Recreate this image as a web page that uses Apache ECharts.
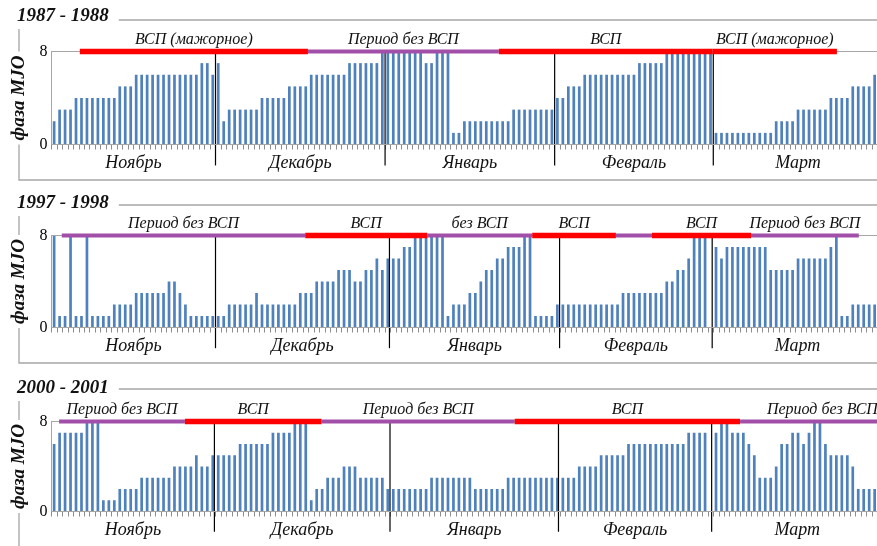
<!DOCTYPE html>
<html>
<head>
<meta charset="utf-8">
<script src="https://cdn.jsdelivr.net/npm/echarts@6/dist/echarts.min.js"></script>
<style>
  html, body { margin: 0; padding: 0; background: #fff; }
  #chart { width: 877px; height: 546px; }
</style>
</head>
<body>
<div id="chart"></div>
<script>
// Daily MJO phase, Nov 1 – Mar 31, one array per month.
const monthNames = ['Ноябрь', 'Декабрь', 'Январь', 'Февраль', 'Март'];
// Day slots per month on the shared axis (February keeps a slot for the 29th).
const slotTemplate = [30, 31, 31, 29, 31];

// 1987 - 1988
const nov87 = [2,3,3,3,4,4,4,4,4,4,4,4,5,5,5,6,6,6,6,6,6,6,6,6,6,6,6,7,7,6];
const dec87 = [7,2,3,3,3,3,3,3,4,4,4,4,4,5,5,5,5,6,6,6,6,6,6,6,7,7,7,7,7,7,8];
const jan88 = [8,8,8,8,8,8,8,7,7,8,8,8,1,1,2,2,2,2,2,2,2,2,2,3,3,3,3,3,3,3,3];
const feb88 = [4,4,5,5,5,6,6,6,6,6,6,6,6,6,6,7,7,7,7,7,8,8,8,8,8,8,8,8,8];
const mar88 = [1,1,1,1,1,1,1,1,1,1,1,2,2,2,2,3,3,3,3,3,3,4,4,4,4,5,5,5,5,6,6];

// 1997 - 1998
const nov97 = [8,1,1,8,1,1,8,1,1,1,1,2,2,2,2,3,3,3,3,3,3,4,4,3,2,1,1,1,1,1];
const dec97 = [1,1,2,2,2,2,2,3,2,2,2,2,2,2,2,3,3,3,4,4,4,4,5,5,5,4,4,5,5,6,5];
const jan98 = [6,6,6,7,7,8,8,8,8,8,8,1,2,2,2,3,3,4,5,5,6,6,7,7,7,8,8,1,1,1,1];
const feb98 = [2,2,2,2,2,2,2,2,2,2,2,2,3,3,3,3,3,3,3,3,4,4,5,5,6,8,8,8];
const mar98 = [7,6,7,7,7,7,7,7,7,7,5,5,5,5,5,6,6,6,6,6,6,7,8,1,1,2,2,2,2,2,2];

// 2000 - 2001
const nov00 = [6,7,7,7,7,7,8,8,8,1,1,1,2,2,2,2,3,3,3,3,3,3,4,4,4,4,5,4,4,5];
const dec00 = [5,5,5,5,6,6,6,6,6,6,7,7,7,7,8,8,8,1,2,2,3,3,3,4,4,4,3,3,3,3,3];
const jan01 = [2,2,2,2,2,2,2,2,3,3,3,3,3,3,3,3,2,2,2,2,2,2,3,3,3,3,3,3,3,3,3];
const feb01 = [3,3,3,3,4,4,4,4,5,5,5,5,5,6,6,6,6,6,6,6,6,6,6,6,7,7,7,7];
const mar01 = [7,8,8,7,7,7,6,5,3,3,3,4,6,6,7,7,6,7,8,8,6,5,5,5,5,4,2,2,2,2,2];

// Month dividers, in day slots from Nov 1
const edges87 = [30, 61, 92, 121];
const edges97 = [30, 61.8, 92.9, 120.8];
const edges00 = [29.8, 61.9, 92.7, 120.7];

// Periods drawn along phase 8: [from day, to day, label, kind]
const periods87 = [
  [5.2, 46.9, 'ВСП (мажорное)', 'vsp'],
  [46.9, 81.8, 'Период без ВСП', 'none'],
  [81.8, 120.9, 'ВСП', 'vsp'],
  [120.9, 143.6, 'ВСП (мажорное)', 'vsp']
];
const periods97 = [
  [1.9, 46.4, 'Период без ВСП', 'none'],
  [46.4, 68.7, 'ВСП', 'vsp'],
  [68.7, 87.9, 'без ВСП', 'none'],
  [87.9, 103.2, 'ВСП', 'vsp'],
  [103.2, 109.8, '', 'none'],
  [109.8, 127.9, 'ВСП', 'vsp'],
  [127.9, 147.6, 'Период без ВСП', 'none']
];
const periods00 = [
  [1.4, 24.4, 'Период без ВСП', 'none'],
  [24.4, 49.4, 'ВСП', 'vsp'],
  [49.4, 84.7, 'Период без ВСП', 'none'],
  [84.7, 125.9, 'ВСП', 'vsp'],
  [125.9, 156, 'Период без ВСП', 'none']
];

const seasons = [
  { title: '1987 - 1988', months: [nov87, dec87, jan88, feb88, mar88], edges: edges87, periods: periods87 },
  { title: '1997 - 1998', months: [nov97, dec97, jan98, feb98, mar98], edges: edges97, periods: periods97 },
  { title: '2000 - 2001', months: [nov00, dec00, jan01, feb01, mar01], edges: edges00, periods: periods00 }
];

// ---- layout ----
const GRID_LEFT = 51.4;
const X_MAX = 150.93;
const panelBoxes = [
  { top: 51.5, height: 93, frameY: 20, frameH: 160, titleTop: 4 },
  { top: 235.5, height: 92, frameY: 205, frameH: 158, titleTop: 191 },
  { top: 421.5, height: 90, frameY: 389, frameH: 175, titleTop: 376 }
];
const serif = '"Liberation Serif", "Times New Roman", serif';
const BAR_BLUE = '#4F81BD';
const LINE_COLORS = { vsp: '#FF0000', none: '#A14FA8' };

function toSlots(months) {
  const out = [];
  let start = 0;
  months.forEach((vals, k) => {
    vals.forEach((v, d) => { if (v != null) out.push([start + d + 0.5, v]); });
    start += slotTemplate[k];
  });
  return out;
}
const totalSlots = slotTemplate.reduce((a, b) => a + b, 0);

const option = {
  animation: false,
  textStyle: { fontFamily: serif },
  title: [],
  graphic: { elements: [] },
  grid: [],
  xAxis: [],
  yAxis: [],
  series: []
};

seasons.forEach((s, k) => {
  const box = panelBoxes[k];

  option.graphic.elements.push({
    type: 'rect', z: -5, silent: true,
    shape: { x: 19, y: box.frameY, width: 900, height: box.frameH },
    style: { fill: null, stroke: '#a6a6a6', lineWidth: 1.3 }
  });

  option.title.push({
    text: s.title, left: 14, top: box.titleTop,
    padding: [3, 10, 3, 3], backgroundColor: '#fff', z: 8,
    textStyle: { fontFamily: serif, fontStyle: 'italic', fontWeight: 'bold', fontSize: 19, color: '#111' }
  });

  option.grid.push({ left: GRID_LEFT, right: 0, top: box.top, height: box.height });

  option.xAxis.push({
    type: 'value', gridIndex: k, min: 0, max: X_MAX, interval: 1,
    axisLine: { show: true, lineStyle: { color: '#a6a6a6', width: 1 } },
    axisTick: { show: true, length: 5, lineStyle: { color: '#8c8c8c', width: 1 } },
    axisLabel: { show: false },
    splitLine: { show: false }
  });

  option.yAxis.push({
    type: 'value', gridIndex: k, min: 0, max: 8, interval: 8, z: 5,
    name: 'фаза MJO', nameLocation: 'middle', nameRotate: 90, nameGap: 20,
    nameTextStyle: {
      fontFamily: serif, fontStyle: 'italic', fontWeight: 'bold', fontSize: 19,
      color: '#111', backgroundColor: '#fff', padding: [0, 4]
    },
    axisLine: { show: true, lineStyle: { color: '#a6a6a6', width: 1 } },
    axisTick: { show: false },
    axisLabel: { fontFamily: serif, fontSize: 16, color: '#000', margin: 4 },
    splitLine: { show: true, lineStyle: { color: '#a6a6a6', width: 1 } }
  });

  // daily phase bars
  option.series.push({
    type: 'bar', xAxisIndex: k, yAxisIndex: k, silent: true,
    data: toSlots(s.months), barWidth: 2.7,
    itemStyle: { color: BAR_BLUE }, z: 2
  });

  // month dividers
  option.series.push({
    type: 'custom', xAxisIndex: k, yAxisIndex: k, silent: true, z: 4,
    data: s.edges.map(e => [e, 8]),
    renderItem: (params, api) => {
      const a = api.coord([api.value(0), 8]);
      const b = api.coord([api.value(0), -1.8]);
      return { type: 'line', shape: { x1: a[0], y1: a[1], x2: b[0], y2: b[1] },
               style: { stroke: '#000', lineWidth: 1.2 } };
    }
  });

  // month names, centred between dividers
  const bounds = [0].concat(s.edges, [totalSlots]);
  option.series.push({
    type: 'custom', xAxisIndex: k, yAxisIndex: k, silent: true, z: 4,
    data: monthNames.map((n, m) => [(bounds[m] + bounds[m + 1]) / 2, 0]),
    renderItem: (params, api) => {
      const p = api.coord([api.value(0), 0]);
      return { type: 'text', style: {
        text: monthNames[params.dataIndex], x: p[0], y: p[1] + 19,
        align: 'center', verticalAlign: 'middle',
        font: 'italic 18px ' + serif, fill: '#111' } };
    }
  });

  // ВСП / no-ВСП periods along phase 8
  option.series.push({
    type: 'custom', xAxisIndex: k, yAxisIndex: k, silent: true, z: 6,
    data: s.periods.map(p => [p[0], p[1]]),
    renderItem: (params, api) => {
      const seg = s.periods[params.dataIndex];
      const a = api.coord([api.value(0), 8]);
      const b = api.coord([api.value(1), 8]);
      const children = [{
        type: 'line', shape: { x1: a[0], y1: a[1], x2: b[0], y2: b[1] },
        style: { stroke: LINE_COLORS[seg[3]], lineWidth: seg[3] === 'vsp' ? 5.5 : 4 }
      }];
      if (seg[2]) {
        children.push({ type: 'text', style: {
          text: seg[2], x: (a[0] + b[0]) / 2, y: a[1] - 12,
          align: 'center', verticalAlign: 'middle',
          font: 'italic 16px ' + serif, fill: '#111' } });
      }
      return { type: 'group', children };
    }
  });
});

const chart = echarts.init(document.getElementById('chart'), null, { renderer: 'canvas' });
chart.setOption(option);
</script>
</body>
</html>
